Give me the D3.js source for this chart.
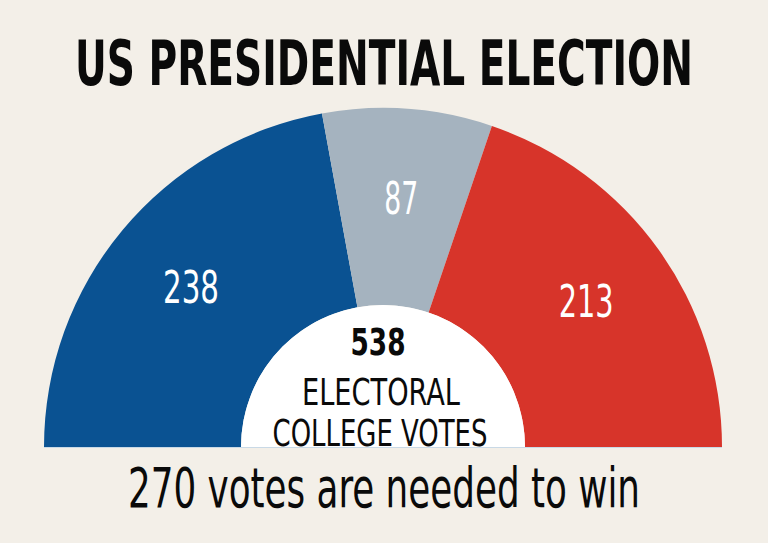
<!DOCTYPE html>
<html>
<head>
<meta charset="utf-8">
<script src="https://cdn.jsdelivr.net/npm/d3@7"></script>
<style>
html,body{margin:0;padding:0;background:#f3efe8;}
svg{display:block;}
</style>
</head>
<body>
<svg id="chart" width="768" height="543"></svg>
<script>
// Data
const parties = ["Democrat", "Toss-up", "Republican"];
const votes = [238, 87, 213];
const colors = ["#0a5292", "#a5b3bf", "#d7342a"];
const title = "US PRESIDENTIAL ELECTION";
const totalVotes = 538;
const centerLines = ["ELECTORAL", "COLLEGE VOTES"];
const footer = "270 votes are needed to win";

const W = 768, H = 543;
const cx = 383, cy = 447, rOuter = 339, rInner = 142;
const condensed = "'Liberation Sans Narrow','DejaVu Sans Condensed','Arial Narrow',sans-serif";

const svg = d3.select("#chart");
svg.append("rect").attr("width", W).attr("height", H).attr("fill", "#f3efe8");

// Title
svg.append("text")
  .attr("x", 384).attr("y", 85)
  .attr("text-anchor", "middle")
  .attr("font-family", condensed)
  .attr("font-weight", "bold")
  .attr("font-size", 62)
  .attr("textLength", 618)
  .attr("lengthAdjust", "spacingAndGlyphs")
  .attr("fill", "#0a0a0a")
  .text(title);

const data = parties.map((p, i) => ({party: p, value: votes[i], color: colors[i]}));

const pie = d3.pie().value(d => d.value).sort(null)
  .startAngle(-Math.PI / 2).endAngle(Math.PI / 2);
const arcs = pie(data);

const arc = d3.arc().innerRadius(rInner).outerRadius(rOuter);
const g = svg.append("g").attr("transform", `translate(${cx},${cy})`);

g.selectAll("path.seg").data(arcs).join("path")
  .attr("class", "seg")
  .attr("d", arc)
  .attr("fill", d => d.data.color);

// inner white half disc
g.append("path")
  .attr("d", d3.arc().innerRadius(0).outerRadius(rInner)({startAngle: -Math.PI / 2, endAngle: Math.PI / 2}))
  .attr("fill", "#ffffff");

// thin baseline
g.append("line")
  .attr("x1", -rOuter).attr("x2", rOuter)
  .attr("y1", 0.5).attr("y2", 0.5)
  .attr("stroke", "#c9d9e6").attr("stroke-width", 1);

// value labels
const labelArc = d3.arc().innerRadius(250).outerRadius(250);
const labelWidths = [56, 34, 55];
g.selectAll("text.val").data(arcs).join("text")
  .attr("class", "val")
  .attr("transform", d => { const c = labelArc.centroid(d); return `translate(${c[0]},${c[1] + 16})`; })
  .attr("text-anchor", "middle")
  .attr("font-family", condensed)
  .attr("font-size", 44)
  .attr("fill", "#ffffff")
  .attr("textLength", (d, i) => labelWidths[i])
  .attr("lengthAdjust", "spacingAndGlyphs")
  .text(d => d.data.value);

// center text
svg.append("text")
  .attr("x", 378).attr("y", 355)
  .attr("text-anchor", "middle")
  .attr("font-family", condensed)
  .attr("font-weight", "bold")
  .attr("font-size", 37)
  .attr("textLength", 55)
  .attr("lengthAdjust", "spacingAndGlyphs")
  .attr("fill", "#0a0a0a")
  .text(totalVotes);

svg.append("text")
  .attr("x", 381).attr("y", 405)
  .attr("text-anchor", "middle")
  .attr("font-family", condensed)
  .attr("font-size", 37)
  .attr("textLength", 158)
  .attr("lengthAdjust", "spacingAndGlyphs")
  .attr("fill", "#0a0a0a")
  .text(centerLines[0]);

svg.append("text")
  .attr("x", 380).attr("y", 446)
  .attr("text-anchor", "middle")
  .attr("font-family", condensed)
  .attr("font-size", 37)
  .attr("textLength", 215)
  .attr("lengthAdjust", "spacingAndGlyphs")
  .attr("fill", "#0a0a0a")
  .text(centerLines[1]);

// footer
svg.append("text")
  .attr("x", 384).attr("y", 507)
  .attr("text-anchor", "middle")
  .attr("font-family", condensed)
  .attr("font-size", 55)
  .attr("textLength", 512)
  .attr("lengthAdjust", "spacingAndGlyphs")
  .attr("fill", "#0a0a0a")
  .text(footer);
</script>
</body>
</html>
